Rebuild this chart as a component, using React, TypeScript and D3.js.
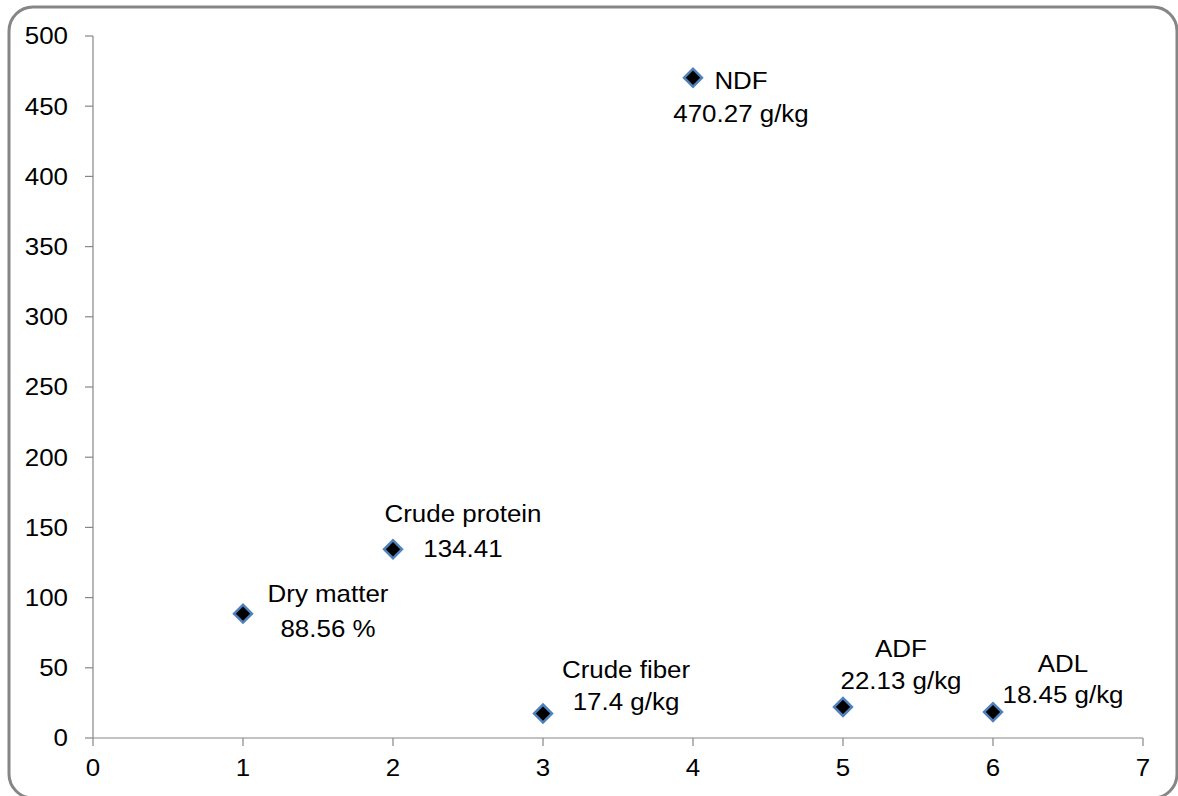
import React, { useMemo } from 'react';
import * as d3 from 'd3';

// Measured values, one point per component (x = 1..6)
const names = ['Dry matter', 'Crude protein', 'Crude fiber', 'NDF', 'ADF', 'ADL'];
const xValues = [1, 2, 3, 4, 5, 6];
const yValues = [88.56, 134.41, 17.4, 470.27, 22.13, 18.45];
const valueLabels = ['88.56 %', '134.41', '17.4 g/kg', '470.27 g/kg', '22.13 g/kg', '18.45 g/kg'];

const xTicks = [0, 1, 2, 3, 4, 5, 6, 7];
const yTicks = [0, 50, 100, 150, 200, 250, 300, 350, 400, 450, 500];

// Hand-placed label offsets (px from the marker), as in the source chart
const labelOffsets = [
  { dx: 85, dy1: -20, dy2: 15 },
  { dx: 70, dy1: -36, dy2: -1 },
  { dx: 83, dy1: -44, dy2: -12 },
  { dx: 48, dy1: 3, dy2: 36 },
  { dx: 58, dy1: -58, dy2: -26 },
  { dx: 70, dy1: -49, dy2: -18 },
];

const W = 1178;
const H = 796;
const margin = { top: 36, right: 35, bottom: 58, left: 93 };
const FONT = '"Liberation Sans", Arial, sans-serif';
const AXIS = '#868686';
const SX = 1.08; // source text renders slightly wide

const Label: React.FC<{ x: number; y: number; anchor: string; children: React.ReactNode }> = ({
  x,
  y,
  anchor,
  children,
}) => (
  <text
    transform={`translate(${x},${y}) scale(${SX},1)`}
    dy="0.35em"
    textAnchor={anchor}
    fontSize={24}
    fill="#000"
  >
    {children}
  </text>
);

export default function App() {
  const x = useMemo(
    () => d3.scaleLinear().domain([0, 7]).range([margin.left, W - margin.right]),
    []
  );
  const y = useMemo(
    () => d3.scaleLinear().domain([0, 500]).range([H - margin.bottom, margin.top]),
    []
  );
  const diamond = useMemo(() => d3.symbol(d3.symbolSquare, 160)() || '', []);

  const y0 = y(0);
  const x0 = x(0);

  return (
    <div style={{ position: 'fixed', left: 0, top: 0, width: W, height: H, background: '#fff' }}>
      <svg width={W} height={H} style={{ fontFamily: FONT, display: 'block' }}>
        <rect x={9} y={7} width={W - 10} height={H - 5} rx={24} ry={24} fill="#fff" stroke="#868686" strokeWidth={3} />

        {/* y axis */}
        <line x1={x0} x2={x0} y1={y(500)} y2={y0} stroke={AXIS} strokeWidth={1.2} />
        {yTicks.map(t => (
          <g key={`y${t}`}>
            <line x1={x0 - 8} x2={x0} y1={y(t)} y2={y(t)} stroke={AXIS} strokeWidth={1.2} />
            <Label x={x0 - 25} y={y(t)} anchor="end">{t}</Label>
          </g>
        ))}

        {/* x axis */}
        <line x1={x0} x2={x(7)} y1={y0} y2={y0} stroke={AXIS} strokeWidth={1.2} />
        {xTicks.map(t => (
          <g key={`x${t}`}>
            <line x1={x(t)} x2={x(t)} y1={y0} y2={y0 + 8} stroke={AXIS} strokeWidth={1.2} />
            <Label x={x(t)} y={y0 + 30} anchor="middle">{t}</Label>
          </g>
        ))}

        {/* points */}
        {xValues.map((xv, i) => {
          const cx = x(xv);
          const cy = y(yValues[i]);
          const o = labelOffsets[i];
          return (
            <g key={names[i]}>
              <path
                d={diamond}
                transform={`translate(${cx},${cy}) rotate(45)`}
                fill="#000"
                stroke="#4f81bd"
                strokeWidth={2.5}
              />
              <Label x={cx + o.dx} y={cy + o.dy1} anchor="middle">{names[i]}</Label>
              <Label x={cx + o.dx} y={cy + o.dy2} anchor="middle">{valueLabels[i]}</Label>
            </g>
          );
        })}
      </svg>
    </div>
  );
}
